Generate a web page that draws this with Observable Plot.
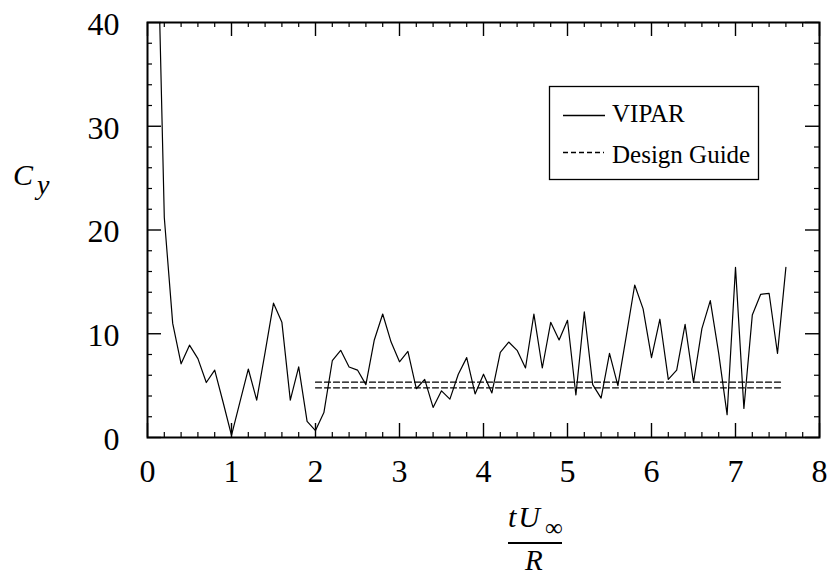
<!DOCTYPE html>
<html>
<head>
<meta charset="utf-8">
<script src="https://cdn.jsdelivr.net/npm/d3@7"></script>
<script src="https://cdn.jsdelivr.net/npm/@observablehq/plot@0.6"></script>
<style>
  body { margin: 0; background: #fff; }
  #chart svg { display: block; }
</style>
</head>
<body>
<div id="chart"></div>
<script>
// ---- data ----
const timeValues = [0.1,0.2,0.3,0.4,0.5,0.6,0.7,0.8,0.9,1.0,
  1.1,1.2,1.3,1.4,1.5,1.6,1.7,1.8,1.9,2.0,
  2.1,2.2,2.3,2.4,2.5,2.6,2.7,2.8,2.9,3.0,
  3.1,3.2,3.3,3.4,3.5,3.6,3.7,3.8,3.9,4.0,
  4.1,4.2,4.3,4.4,4.5,4.6,4.7,4.8,4.9,5.0,
  5.1,5.2,5.3,5.4,5.5,5.6,5.7,5.8,5.9,6.0,
  6.1,6.2,6.3,6.4,6.5,6.6,6.7,6.8,6.9,7.0,
  7.1,7.2,7.3,7.4,7.5,7.6];
const viparCy = [56,21.2,11.0,7.1,8.9,7.6,5.3,6.5,3.4,0.2,
  3.4,6.6,3.6,8.2,12.95,11.1,3.6,6.8,1.55,0.67,
  2.4,7.4,8.4,6.8,6.5,5.1,9.4,11.9,9.2,7.3,
  8.3,4.7,5.6,2.9,4.5,3.7,6.1,7.7,4.2,6.1,
  4.3,8.2,9.2,8.4,6.7,11.9,6.7,11.1,9.4,11.3,
  4.1,12.1,5.1,3.8,8.1,5.0,9.8,14.7,12.4,7.7,
  11.4,5.6,6.5,10.9,5.3,10.5,13.2,8.1,2.2,16.4,
  2.8,11.8,13.8,13.9,8.1,16.4];
const designGuideLevels = [5.33, 4.79];
const designGuideRange = [2.0, 7.56];
const xTickLabels = [0,1,2,3,4,5,6,7,8];
const yTickLabels = [0,10,20,30,40];
const legendLabels = ["VIPAR", "Design Guide"];

// ---- build tables ----
const vipar = timeValues.map((t, i) => ({t, cy: viparCy[i]}));
const guide = designGuideLevels.flatMap((v, k) =>
  designGuideRange.map(t => ({t, cy: v, k})));
const minorX = d3.range(0, 8.001, 0.2).map(v => +v.toFixed(1)).filter(v => !xTickLabels.includes(v));
const minorY = d3.range(0, 40.001, 2).filter(v => !yTickLabels.includes(v));

const W = 831, H = 575, mL = 147, mR = 12, mT = 22, mB = 138;
const innerW = W - mL - mR, innerH = H - mT - mB;
const MAJ = 14, MIN = 5;
const font = "'Liberation Serif', 'Times New Roman', Times, serif";

const plot = Plot.plot({
  width: W, height: H,
  marginLeft: mL, marginRight: mR, marginTop: mT, marginBottom: mB,
  style: {fontFamily: font, background: "white", color: "black"},
  x: {domain: [0, 8]},
  y: {domain: [0, 40]},
  marks: [
    Plot.lineY(vipar, {x: "t", y: "cy", stroke: "black", strokeWidth: 1.2, clip: true}),
    Plot.line(guide, {x: "t", y: "cy", z: "k", stroke: "black", strokeWidth: 1.2, strokeDasharray: "6,3"}),
    // inward ticks on all four sides
    Plot.tickX(xTickLabels, {x: d => d, insetTop: innerH - MAJ, stroke: "black", strokeWidth: 1.4}),
    Plot.tickX(xTickLabels, {x: d => d, insetBottom: innerH - MAJ, stroke: "black", strokeWidth: 1.4}),
    Plot.tickX(minorX, {x: d => d, insetTop: innerH - MIN, stroke: "black", strokeWidth: 1.2}),
    Plot.tickX(minorX, {x: d => d, insetBottom: innerH - MIN, stroke: "black", strokeWidth: 1.2}),
    Plot.tickY(yTickLabels, {y: d => d, insetRight: innerW - MAJ, stroke: "black", strokeWidth: 1.4}),
    Plot.tickY(yTickLabels, {y: d => d, insetLeft: innerW - MAJ, stroke: "black", strokeWidth: 1.4}),
    Plot.tickY(minorY, {y: d => d, insetRight: innerW - MIN, stroke: "black", strokeWidth: 1.2}),
    Plot.tickY(minorY, {y: d => d, insetLeft: innerW - MIN, stroke: "black", strokeWidth: 1.2}),
    Plot.frame({stroke: "black", strokeWidth: 2}),
    Plot.axisX({ticks: xTickLabels, tickSize: 0, tickPadding: 22, fontSize: 32, label: null, tickFormat: d => String(d)}),
    Plot.axisY({ticks: yTickLabels, tickSize: 0, tickPadding: 28, fontSize: 32, label: null, dy: 2, tickFormat: d => String(d)})
  ]
});

document.getElementById("chart").appendChild(plot);

// ---- legend and axis titles ----
const svg = d3.select(plot);
const lg = svg.append("g").attr("font-family", font).attr("fill", "black").attr("text-anchor", "start");
lg.append("rect").attr("x", 549.5).attr("y", 86.5).attr("width", 209).attr("height", 93)
  .attr("fill", "white").attr("stroke", "black").attr("stroke-width", 1.3);
lg.append("line").attr("x1", 563).attr("x2", 605).attr("y1", 115.5).attr("y2", 115.5)
  .attr("stroke", "black").attr("stroke-width", 1.3);
lg.append("text").attr("x", 612).attr("y", 122).attr("font-size", 25).attr("text-anchor", "start").text(legendLabels[0]);
lg.append("line").attr("x1", 563).attr("x2", 604).attr("y1", 152.5).attr("y2", 152.5)
  .attr("stroke", "black").attr("stroke-width", 1.3).attr("stroke-dasharray", "5,3");
lg.append("text").attr("x", 612).attr("y", 163).attr("font-size", 25).attr("text-anchor", "start").text(legendLabels[1]);

const tg = svg.append("g").attr("font-family", font).attr("fill", "black").attr("text-anchor", "start");
const cy = tg.append("text").attr("x", 13).attr("y", 185).attr("font-size", 30).attr("font-style", "italic").attr("text-anchor", "start");
cy.append("tspan").text("C");
cy.append("tspan").attr("dx", 4).attr("dy", 9).attr("font-size", 28).text("y");

const num = tg.append("text").attr("x", 508).attr("y", 527).attr("font-size", 30).attr("text-anchor", "start");
num.append("tspan").attr("font-style", "italic").text("t");
num.append("tspan").attr("font-style", "italic").attr("dx", 2).text("U");
num.append("tspan").attr("dx", 5).attr("dy", 9).attr("font-size", 25).text("∞");
tg.append("line").attr("x1", 508).attr("x2", 562).attr("y1", 543).attr("y2", 543)
  .attr("stroke", "black").attr("stroke-width", 2);
tg.append("text").attr("x", 525).attr("y", 570).attr("font-size", 29).attr("font-style", "italic").attr("text-anchor", "start").text("R");
</script>
</body>
</html>
